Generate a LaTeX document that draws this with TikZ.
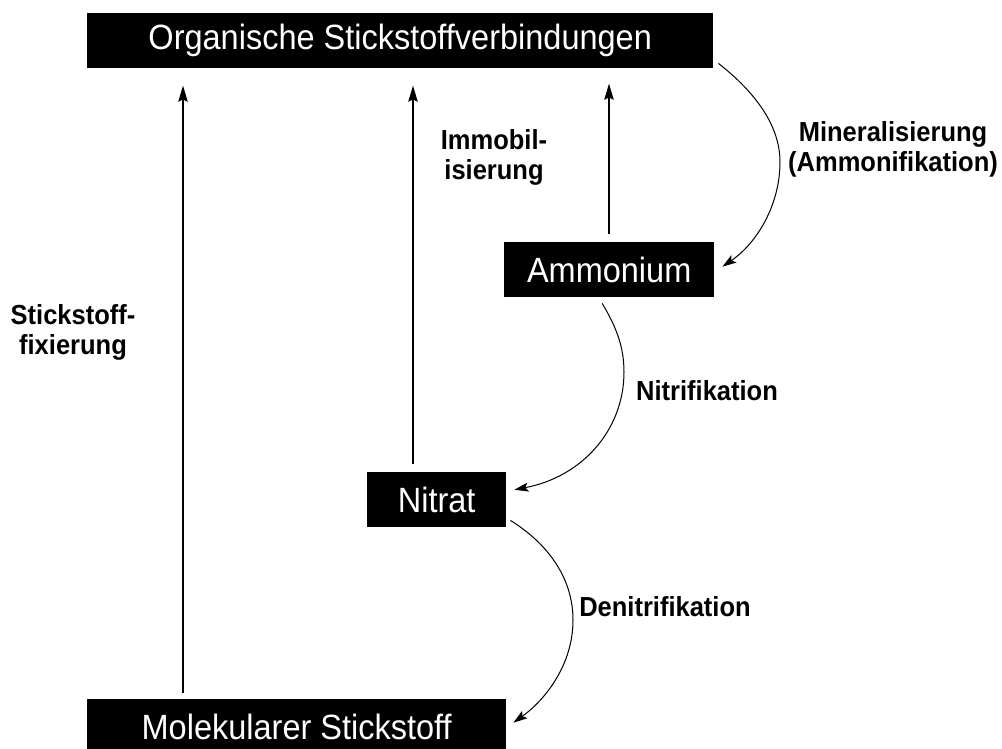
\documentclass[tikz,border=0pt]{standalone}
\usepackage{fontspec}
\usepackage{graphicx}
\setmainfont{Liberation Sans}
\usetikzlibrary{arrows.meta,calc}
\newcommand{\tallt}[1]{\scalebox{1}[1.08]{#1}}
\begin{document}
\begin{tikzpicture}[x=1pt,y=-1pt,
  box/.style={fill=black,text=white,inner sep=0pt,anchor=north west,minimum height=55pt,font=\fontsize{32.5}{39}\selectfont},
  lbl/.style={font=\bfseries\fontsize{25.5}{30}\selectfont,align=center,inner sep=0pt},
  vert/.style={line width=2.5pt,-{Stealth[length=16pt,width=9pt,inset=2pt]}},
  curve/.style={line width=1pt,-{Stealth[length=14pt,width=9pt,inset=3pt]}}]
\useasboundingbox (0,0) rectangle (1002,749);
\clip (0,0) rectangle (1002,749);
\node[box,minimum width=626pt] (org) at (87,13) {\tallt{Organische Stickstoffverbindungen}};
\node[box,minimum width=210pt] (amm) at (504,242) {\tallt{Ammonium}};
\node[box,minimum width=139pt] (nit) at (367,472) {\tallt{Nitrat}};
\node[box,minimum width=419pt] (mol) at (87,699) {\tallt{Molekularer Stickstoff}};
% vertical arrows
\coordinate (xa) at (183,0);
\coordinate (xb) at (413,0);
\coordinate (xc) at (609,0);
\draw[vert,shorten <=6pt,shorten >=17pt] (mol.north -| xa) -- (org.south -| xa);
\draw[vert,shorten <=8pt,shorten >=17pt] (nit.north -| xb) -- (org.south -| xb);
\draw[vert,shorten <=8pt,shorten >=15pt] (amm.north -| xc) -- (org.south -| xc);
% curved arrows
\coordinate (m0) at ($(org.south east)+(5,-5)$);
\coordinate (m1) at ($(amm.east)+(8,-3)$);
\draw[curve] (m0) .. controls (750,88) and (780,122) .. (780,162)
  .. controls (780,205) and (757,243) .. (m1);
\coordinate (n0) at ($(amm.south)+(-7,6)$);
\coordinate (n1) at ($(nit.east)+(8,-10)$);
\draw[curve] (n0) .. controls (615,325) and (624,345) .. (624,372)
  .. controls (624,430) and (582,477) .. (n1);
\coordinate (d0) at ($(nit.south east)+(4,-7)$);
\coordinate (d1) at ($(mol.east)+(7,-4)$);
\draw[curve] (d0) .. controls (550,545) and (573,580) .. (573,620)
  .. controls (573,665) and (545,700) .. (d1);
% labels
\node[lbl] (lmin) at (893,149) {\tallt{Mineralisierung}\\\tallt{(Ammonifikation)}};
\node[lbl] (limm) at (494,157) {\tallt{Immobil-}\\\tallt{isierung}};
\node[lbl] (lfix) at (73,332) {\tallt{Stickstoff-}\\\tallt{fixierung}};
\node[lbl] (lnit) at (707,391) {\tallt{Nitrifikation}};
\node[lbl] (lden) at (665,607) {\tallt{Denitrifikation}};
\end{tikzpicture}
\end{document}
